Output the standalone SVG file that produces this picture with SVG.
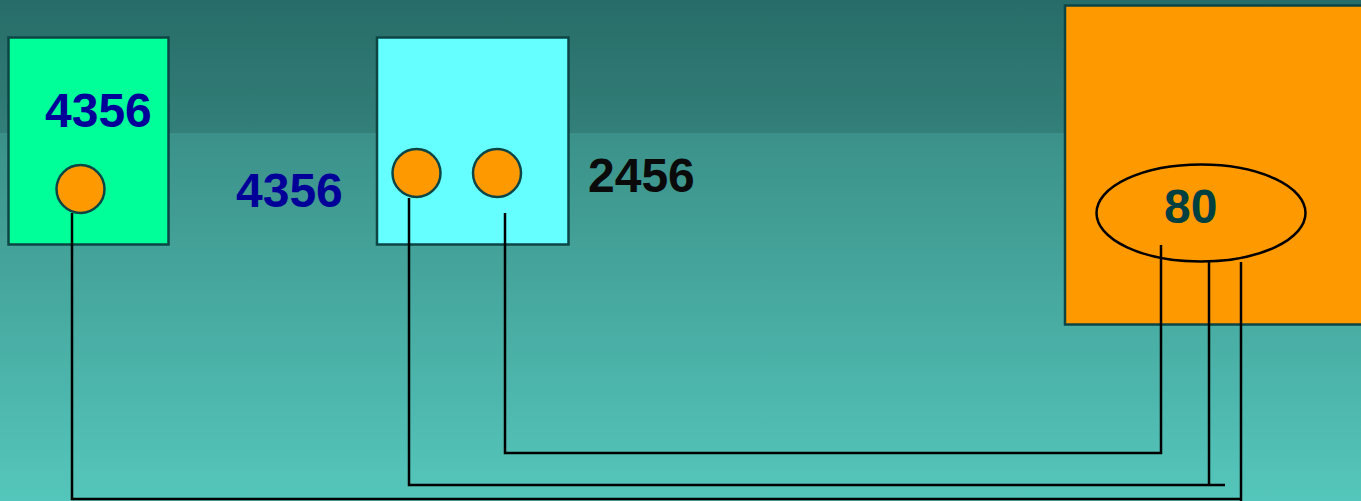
<svg xmlns="http://www.w3.org/2000/svg" width="1361" height="501" viewBox="0 0 1361 501">
<defs>
<linearGradient id="bgTop" x1="0" y1="0" x2="0" y2="1">
<stop offset="0" stop-color="#276c68"/>
<stop offset="1" stop-color="#337f79"/>
</linearGradient>
<linearGradient id="bgBot" x1="0" y1="0" x2="0" y2="1">
<stop offset="0" stop-color="#3b9189"/>
<stop offset="1" stop-color="#55c6bb"/>
</linearGradient>
<style>
.box{stroke:#0d4545;stroke-width:2.5}
.port{fill:#ff9900;stroke:#0d4545;stroke-width:2.5}
.num{font-family:"Liberation Sans",Arial,sans-serif;font-weight:bold;font-size:48px}
.wire{fill:none;stroke:#000;stroke-width:2.5}
</style>
</defs>
<rect x="0" y="0" width="1361" height="133" fill="url(#bgTop)"/>
<rect x="0" y="133" width="1361" height="368" fill="url(#bgBot)"/>

<g id="host-a">
<rect class="box" x="8.5" y="37.5" width="160" height="207" fill="#00ff99"/>
<text class="num" x="45" y="127" fill="#000099">4356</text>
<circle class="port" cx="80.5" cy="189" r="24"/>
</g>

<g id="label-4356">
<text class="num" x="236" y="207" fill="#000099">4356</text>
</g>

<g id="host-b">
<rect class="box" x="377" y="37.5" width="191.5" height="207" fill="#66ffff"/>
<circle class="port" cx="416.5" cy="173" r="24"/>
<circle class="port" cx="497" cy="173" r="24"/>
</g>

<g id="label-2456">
<text class="num" x="588" y="192" fill="#0a0a0a">2456</text>
</g>

<g id="server">
<rect class="box" x="1065" y="5.5" width="300" height="319" fill="#ff9900"/>
<ellipse cx="1201" cy="213" rx="104.5" ry="48.5" fill="none" stroke="#000" stroke-width="2.5"/>
<text class="num" x="1164" y="223" fill="#004040">80</text>
</g>

<g id="connectors">
<polyline class="wire" points="72,213 72,499 1241,499"/>
<line class="wire" x1="1241" y1="262" x2="1241" y2="501"/>
<polyline class="wire" points="409,198 409,485 1225,485"/>
<line class="wire" x1="1209" y1="262" x2="1209" y2="485"/>
<polyline class="wire" points="505,213 505,453 1161,453 1161,245"/>
</g>
</svg>
